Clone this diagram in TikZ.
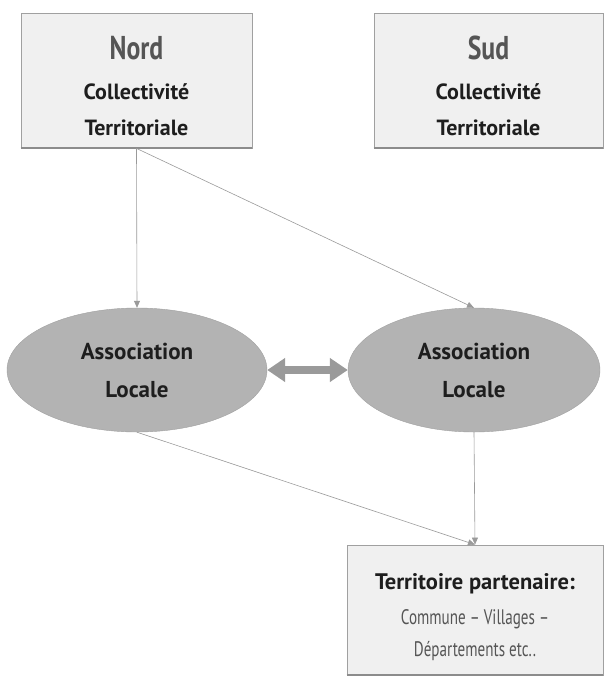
\documentclass[tikz,border=0pt]{standalone}
\usepackage{fontspec}
\setmainfont{PT Sans}
\newfontfamily\condfont{PT Sans}[FakeStretch=0.72]
\newfontfamily\titlefont{PT Sans}[FakeStretch=0.78]
\usetikzlibrary{arrows.meta,shapes.geometric}
\definecolor{boxfill}{HTML}{F0F0F0}
\definecolor{boxline}{HTML}{A0A0A0}
\definecolor{shadowgray}{HTML}{8C8C8C}
\definecolor{ellfill}{HTML}{B3B3B3}
\definecolor{linegray}{HTML}{9A9A9A}
\definecolor{titlegray}{HTML}{555555}
\definecolor{textdark}{HTML}{1E1E1E}
\newcommand{\ttlfont}{\color{titlegray}\titlefont\bfseries\fontsize{33}{36}\selectfont}
\newcommand{\subfont}{\color{textdark}\bfseries\fontsize{22}{36}\selectfont}
\newcommand{\terrfont}{\color{textdark}\bfseries\fontsize{22.5}{36}\selectfont}
\newcommand{\smallcond}{\color{titlegray}\condfont\fontsize{21}{32}\selectfont}
\tikzset{
  topbox/.style={draw=boxline, fill=boxfill, line width=0.8pt, rectangle,
    minimum width=231pt, minimum height=135pt, inner sep=0pt, align=center,
    font=\fontsize{22}{36}\selectfont},
  shadowline/.style={draw=shadowgray, line width=2pt},
  assoc/.style={draw=ellfill!90!black, fill=ellfill, ellipse, line width=0.4pt,
    minimum height=124pt, inner sep=0pt, align=center, text=textdark,
    font=\bfseries\fontsize{23}{38}\selectfont},
  conn/.style={draw=linegray, line width=0.6pt, -{Triangle[length=7pt,width=6pt]}},
  dbl/.style={draw=linegray, line width=8pt,
    {Triangle[length=18pt,width=23pt]}-{Triangle[length=18pt,width=23pt]}},
}
\begin{document}
\begin{tikzpicture}[x=1pt,y=-1pt]
\useasboundingbox (0,0) rectangle (604,678);
\node[topbox] (nord) at (136.5,80.5)
  {\rule{0pt}{34pt}\ttlfont Nord\\[4pt]\subfont Collectivité\\\subfont Territoriale};
\node[topbox, minimum width=229pt] (sud) at (488.5,80.5)
  {\rule{0pt}{34pt}\ttlfont Sud\\[4pt]\subfont Collectivité\\\subfont Territoriale};
\node[assoc, minimum width=260pt] (al) at (137,370) {Association\\Locale};
\node[assoc, minimum width=252pt] (ar) at (474,370) {Association\\Locale};
\node[topbox, minimum width=256pt, minimum height=130pt] (terr) at (475,610)
  {\rule{0pt}{31pt}\terrfont Territoire partenaire:\\[-1pt]\smallcond Commune – Villages –\\[-4pt]\smallcond Départements etc..};
\draw[shadowline] (nord.south west) -- (nord.south east);
\draw[shadowline] (sud.south west) -- (sud.south east);
\draw[shadowline] (terr.south west) -- (terr.south east);
\draw[conn] (nord.south) -- (al.north);
\draw[conn] (nord.south) -- (ar.north);
\draw[conn] (al.south) -- (terr.north);
\draw[conn] (ar.south) -- (terr.north);
\draw[dbl] (al.east) -- (ar.west);
\end{tikzpicture}
\end{document}
